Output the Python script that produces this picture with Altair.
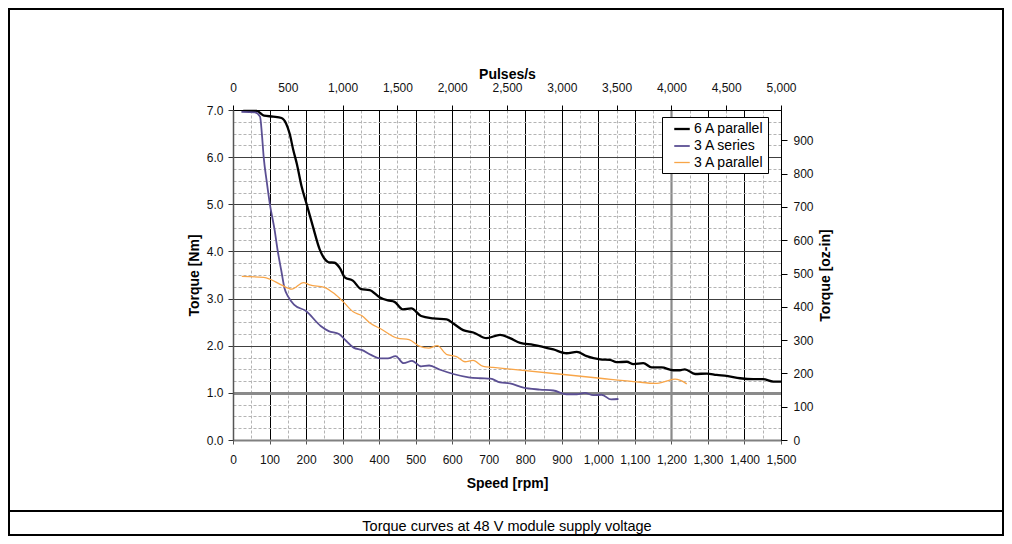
import altair as alt
import pandas as pd

# ---------------- data ----------------
rpm_6a_par = [28, 65, 85, 110, 133, 145, 155, 165, 175, 188, 202, 219, 237, 250, 262, 278, 293, 306,
              328, 351, 374, 401, 424, 442, 465, 488, 515, 548, 585, 603, 630, 658, 694, 731, 758,
              786, 822, 877, 913, 941, 968, 1005, 1032, 1050, 1078, 1096, 1123, 1146, 1173, 1205,
              1223, 1237, 1265, 1297, 1324, 1351, 1388, 1424, 1451, 1479, 1500]
nm_6a_par = [6.98, 6.98, 6.88, 6.86, 6.83, 6.72, 6.50, 6.15, 5.85, 5.37, 4.99, 4.52, 4.05, 3.85, 3.77,
             3.76, 3.64, 3.45, 3.38, 3.20, 3.18, 3.03, 2.96, 2.93, 2.77, 2.79, 2.63, 2.58, 2.56, 2.47,
             2.33, 2.28, 2.16, 2.23, 2.16, 2.06, 2.02, 1.92, 1.84, 1.87, 1.78, 1.71, 1.70, 1.65, 1.66,
             1.61, 1.63, 1.54, 1.54, 1.48, 1.48, 1.50, 1.40, 1.41, 1.38, 1.36, 1.31, 1.29, 1.29, 1.24,
             1.24]

rpm_3a_ser = [23, 60, 74, 79, 84, 92, 101, 114, 122, 132, 141, 151, 167, 199, 240, 262, 290, 310,
              330, 352, 379, 402, 424, 445, 467, 490, 515, 537, 567, 603, 645, 676, 705, 731, 758,
              795, 840, 877, 913, 941, 963, 986, 1009, 1035, 1055]
nm_3a_ser = [6.96, 6.95, 6.86, 6.50, 6.00, 5.50, 5.00, 4.45, 4.03, 3.60, 3.22, 3.04, 2.87, 2.74,
             2.42, 2.31, 2.25, 2.10, 1.96, 1.91, 1.80, 1.73, 1.73, 1.78, 1.63, 1.68, 1.56, 1.58,
             1.49, 1.40, 1.33, 1.31, 1.30, 1.22, 1.20, 1.11, 1.07, 1.05, 0.97, 0.97, 1.00, 0.95,
             0.96, 0.86, 0.87]

rpm_3a_par = [24, 84, 102, 132, 161, 193, 210, 250, 278, 302, 329, 352, 377, 404, 450, 482, 510,
              536, 559, 586, 612, 635, 657, 685, 712, 1005, 1096, 1160, 1182, 1210, 1223, 1242]
nm_3a_par = [3.47, 3.45, 3.41, 3.29, 3.20, 3.34, 3.29, 3.24, 3.10, 2.93, 2.72, 2.64, 2.47, 2.36,
             2.16, 2.13, 1.99, 1.95, 2.00, 1.81, 1.77, 1.66, 1.69, 1.56, 1.54, 1.31, 1.24, 1.20,
             1.24, 1.29, 1.27, 1.19]

series_names = ["6 A parallel", "3 A series", "3 A parallel"]
series_colors = ["#000000", "#5b4f93", "#f8a548"]
series_widths = [2.3, 1.3, 1.3]

# axis tick values
rpm_ticks = list(range(0, 1501, 50))
nm_ticks = [i * 0.25 for i in range(29)]
pulse_ticks = list(range(0, 5001, 500))
oz_ticks = list(range(0, 901, 100))

caption = "Torque curves at 48 V module supply voltage"
FONT = "Liberation Sans"

# unit conversions for the secondary axes
PULSES_PER_RPM = 10.0 / 3.0      # 200 steps/rev
OZIN_PER_NM = 141.6

W, H = 548, 330
PAD = {"left": 225, "top": 102, "right": 223, "bottom": 96}

rows = []
for name, xs, ys in [(series_names[0], rpm_6a_par, nm_6a_par),
                     (series_names[1], rpm_3a_ser, nm_3a_ser),
                     (series_names[2], rpm_3a_par, nm_3a_par)]:
    for i, (x, y) in enumerate(zip(xs, ys)):
        rows.append({"series": name, "rpm": x, "nm": y, "order": i})
df = pd.DataFrame(rows)

df2 = pd.DataFrame({"pulses": [r * PULSES_PER_RPM for r in rpm_6a_par],
                    "oz": [v * OZIN_PER_NM for v in nm_6a_par]})

one = pd.DataFrame({"k": [0]})

# ---------------- axes ----------------
x_axis = alt.Axis(
    orient="bottom", values=rpm_ticks, title="Speed [rpm]",
    labelExpr="datum.value % 100 === 0 ? format(datum.value, ',') : ''",
    labelOverlap=False, labelFlush=False, labelFontSize=12, labelFont=FONT, labelColor="#111",
    labelPadding=10, tickSize=4, tickColor="#555",
    tickOpacity={"condition": {"test": "datum.value % 100 === 0", "value": 1}, "value": 0},
    titleFont=FONT, titleFontSize=14, titleFontWeight="bold", titlePadding=11, titleColor="#000",
    domainColor="#808080", domainWidth=2,
    grid=True,
    gridColor={"condition": [{"test": "datum.value === 1200", "value": "#8a8a8a"},
                             {"test": "datum.value % 100 === 0", "value": "#000000"}],
               "value": "#b4b4b4"},
    gridWidth={"condition": {"test": "datum.value === 1200", "value": 2.2}, "value": 1},
    gridDash={"condition": {"test": "datum.value % 100 === 0", "value": []}, "value": [3, 2]},
)

y_axis = alt.Axis(
    orient="left", values=nm_ticks, title="Torque [Nm]",
    labelExpr="datum.value % 1 === 0 ? format(datum.value, '.1f') : ''",
    labelOverlap=False, labelFlush=False, labelFontSize=12, labelFont=FONT, labelColor="#111",
    labelPadding=5, tickSize=5, tickColor="#333",
    tickOpacity={"condition": {"test": "datum.value % 1 === 0", "value": 1}, "value": 0},
    titleFont=FONT, titleFontSize=14, titleFontWeight="bold", titlePadding=5, titleColor="#000",
    domainColor="#555555", domainWidth=1.5,
    grid=True,
    gridColor={"condition": [{"test": "datum.value === 1", "value": "#8a8a8a"},
                             {"test": "datum.value % 1 === 0", "value": "#404040"}],
               "value": "#b4b4b4"},
    gridWidth={"condition": {"test": "datum.value === 1", "value": 2.8}, "value": 1},
    gridDash={"condition": {"test": "datum.value % 1 === 0", "value": []}, "value": [3, 2]},
)

top_axis = alt.Axis(
    orient="top", values=pulse_ticks, title="Pulses/s",
    labelExpr="format(datum.value, ',')",
    labelOverlap=False, labelFlush=False, labelFontSize=12, labelFont=FONT, labelColor="#111",
    labelPadding=11, tickSize=5, tickColor="#000",
    titleFont=FONT, titleFontSize=14, titleFontWeight="bold", titlePadding=0, titleColor="#000",
    domainColor="#000000", domainWidth=1, grid=False,
)

right_axis = alt.Axis(
    orient="right", values=oz_ticks, title="Torque [oz-in]",
    labelExpr="format(datum.value, 'd')",
    labelOverlap=False, labelFlush=False, labelFontSize=12, labelFont=FONT, labelColor="#111",
    labelPadding=6, tickSize=6, tickColor="#000",
    titleFont=FONT, titleFontSize=14, titleFontWeight="bold", titlePadding=5, titleColor="#000",
    titleAngle=270, titleBaseline="top",
    domainColor="#000000", domainWidth=1, grid=False,
)

# ---------------- layers ----------------
lines = alt.Chart(df).mark_line(interpolate="monotone").encode(
    x=alt.X("rpm:Q", scale=alt.Scale(domain=[0, 1500], nice=False, zero=False), axis=x_axis),
    y=alt.Y("nm:Q", scale=alt.Scale(domain=[0, 7], nice=False), axis=y_axis),
    color=alt.Color("series:N",
                    scale=alt.Scale(domain=series_names, range=series_colors),
                    legend=alt.Legend(title=None, orient="none", legendX=429, legendY=7,
                                      direction="vertical", symbolType="stroke",
                                      symbolSize=240, symbolStrokeWidth=2.2, symbolOffset=8,
                                      labelFont=FONT, labelFontSize=14, labelColor="#000",
                                      labelOffset=3, rowPadding=1, padding=3,
                                      strokeColor="#000", fillColor="#ffffff")),
    strokeWidth=alt.StrokeWidth("series:N",
                                scale=alt.Scale(domain=series_names, range=series_widths),
                                legend=None),
    order="order:Q",
)

secondary = alt.Chart(df2).mark_line(opacity=0).encode(
    x=alt.X("pulses:Q", scale=alt.Scale(domain=[0, 5000], nice=False, zero=False), axis=top_axis),
    y=alt.Y("oz:Q", scale=alt.Scale(domain=[0, 7 * OZIN_PER_NM], nice=False), axis=right_axis),
)

frame = alt.Chart(one).mark_rect(fillOpacity=0, stroke="#000", strokeWidth=2).encode(
    x=alt.value(-PAD["left"] + 1), x2=alt.value(W + PAD["right"] - 1),
    y=alt.value(-PAD["top"] + 1), y2=alt.value(H + PAD["bottom"] - 1),
)

separator = alt.Chart(one).mark_rule(stroke="#000", strokeWidth=2).encode(
    x=alt.value(-PAD["left"] + 1), x2=alt.value(W + PAD["right"] - 1), y=alt.value(401),
)

caption_text = alt.Chart(one).mark_text(font=FONT, fontSize=14.5, color="#000",
                                        align="center", baseline="middle").encode(
    x=alt.value(W / 2), y=alt.value(417), text=alt.value(caption),
)

chart = alt.layer(lines, secondary, frame, separator, caption_text).resolve_scale(
    x="independent", y="independent"
).properties(
    width=W, height=H, padding=PAD,
    autosize=alt.AutoSizeParams(type="none"),
    background="#ffffff",
).configure_view(strokeWidth=0)

chart.save("out.html", embed_options={"renderer": "svg", "actions": False})
